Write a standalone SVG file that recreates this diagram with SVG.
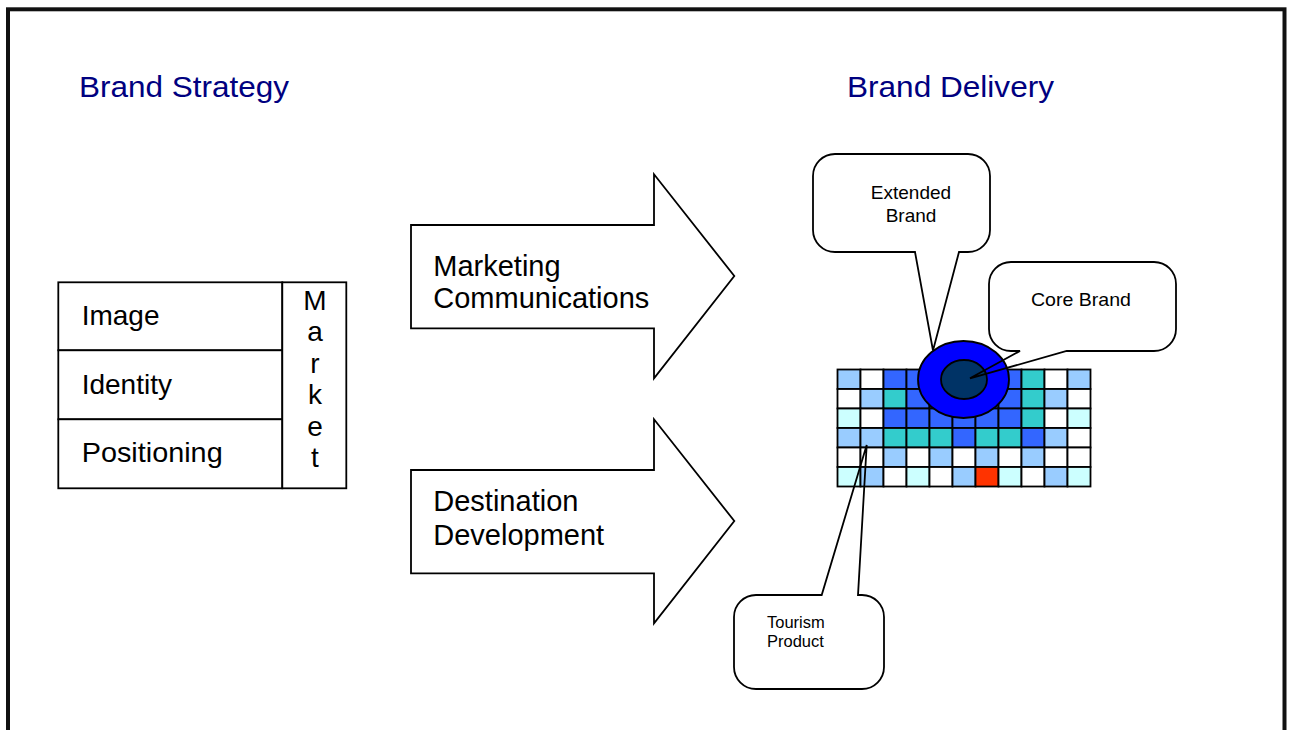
<svg xmlns="http://www.w3.org/2000/svg" width="1294" height="730" viewBox="0 0 1294 730">
<style>
text{font-family:"Liberation Sans",Arial,sans-serif;fill:#000}
.title{font-size:30px;fill:#000080}
.big{font-size:28px}
.arr{font-size:29px}
.co{font-size:19px}
.sm{font-size:16.5px}
.box{fill:#fff;stroke:#000;stroke-width:1.8}
.shape{fill:#fff;stroke:#000;stroke-width:1.8;stroke-linejoin:miter}
.callout{fill:none;stroke:#000;stroke-width:1.8;stroke-linejoin:miter}
.cell{stroke:#000;stroke-width:1.8}
.lb{fill:#99CCFF}.w{fill:#FFFFFF}.b{fill:#3366FF}.t{fill:#33CCCC}.lc{fill:#CCFFFF}.r{fill:#FF3300}
</style>
<rect x="0" y="0" width="1294" height="730" fill="#fff"/>
<rect id="frame" x="8" y="9.3" width="1276.5" height="800" fill="none" stroke="#111" stroke-width="4"/>

<g id="titles">
<text class="title" x="79" y="97" textLength="210" lengthAdjust="spacingAndGlyphs">Brand Strategy</text>
<text class="title" x="847" y="97" textLength="207" lengthAdjust="spacingAndGlyphs">Brand Delivery</text>
</g>

<g id="strategy">
<g id="image"><rect class="box" x="58.3" y="282.3" width="224" height="68"/><text class="big" x="81.7" y="325">Image</text></g>
<g id="identity"><rect class="box" x="58.3" y="350.3" width="224" height="69"/><text class="big" x="81.7" y="393.5">Identity</text></g>
<g id="positioning"><rect class="box" x="58.3" y="419.3" width="224" height="69"/><text class="big" x="81.7" y="461.7" textLength="141" lengthAdjust="spacingAndGlyphs">Positioning</text></g>
<g id="market"><rect class="box" x="282.3" y="282.3" width="64" height="206"/>
<text class="big" text-anchor="middle"><tspan x="315" y="310">M</tspan><tspan x="315" y="341.4">a</tspan><tspan x="315" y="372.8">r</tspan><tspan x="315" y="404.2">k</tspan><tspan x="315" y="435.6">e</tspan><tspan x="315" y="467">t</tspan></text></g>
</g>

<g id="connectors">
<g id="marketing-communications">
<path class="shape" d="M411,225 H654 V174.3 L734.3,276 L654,378.3 V328.3 H411 Z"/>
<text class="arr" x="433.3" y="276">Marketing</text>
<text class="arr" x="433.3" y="308.3">Communications</text>
</g>
<g id="destination-development">
<path class="shape" d="M411,470 H654 V419.3 L734.3,521 L654,623.3 V573.3 H411 Z"/>
<text class="arr" x="433.3" y="511">Destination</text>
<text class="arr" x="433.3" y="545">Development</text>
</g>
</g>

<g id="grid">
<rect class="cell lb" x="837.5" y="369.5" width="23" height="19.5"/>
<rect class="cell w" x="860.5" y="369.5" width="23" height="19.5"/>
<rect class="cell b" x="883.5" y="369.5" width="23" height="19.5"/>
<rect class="cell b" x="906.5" y="369.5" width="23" height="19.5"/>
<rect class="cell b" x="929.5" y="369.5" width="23" height="19.5"/>
<rect class="cell b" x="952.5" y="369.5" width="23" height="19.5"/>
<rect class="cell b" x="975.5" y="369.5" width="23" height="19.5"/>
<rect class="cell b" x="998.5" y="369.5" width="23" height="19.5"/>
<rect class="cell t" x="1021.5" y="369.5" width="23" height="19.5"/>
<rect class="cell w" x="1044.5" y="369.5" width="23" height="19.5"/>
<rect class="cell lb" x="1067.5" y="369.5" width="23" height="19.5"/>

<rect class="cell w" x="837.5" y="389" width="23" height="19.5"/>
<rect class="cell lb" x="860.5" y="389" width="23" height="19.5"/>
<rect class="cell t" x="883.5" y="389" width="23" height="19.5"/>
<rect class="cell b" x="906.5" y="389" width="23" height="19.5"/>
<rect class="cell b" x="929.5" y="389" width="23" height="19.5"/>
<rect class="cell b" x="952.5" y="389" width="23" height="19.5"/>
<rect class="cell b" x="975.5" y="389" width="23" height="19.5"/>
<rect class="cell b" x="998.5" y="389" width="23" height="19.5"/>
<rect class="cell t" x="1021.5" y="389" width="23" height="19.5"/>
<rect class="cell lb" x="1044.5" y="389" width="23" height="19.5"/>
<rect class="cell w" x="1067.5" y="389" width="23" height="19.5"/>

<rect class="cell lc" x="837.5" y="408.5" width="23" height="19.5"/>
<rect class="cell w" x="860.5" y="408.5" width="23" height="19.5"/>
<rect class="cell b" x="883.5" y="408.5" width="23" height="19.5"/>
<rect class="cell b" x="906.5" y="408.5" width="23" height="19.5"/>
<rect class="cell b" x="929.5" y="408.5" width="23" height="19.5"/>
<rect class="cell b" x="952.5" y="408.5" width="23" height="19.5"/>
<rect class="cell b" x="975.5" y="408.5" width="23" height="19.5"/>
<rect class="cell b" x="998.5" y="408.5" width="23" height="19.5"/>
<rect class="cell t" x="1021.5" y="408.5" width="23" height="19.5"/>
<rect class="cell w" x="1044.5" y="408.5" width="23" height="19.5"/>
<rect class="cell lc" x="1067.5" y="408.5" width="23" height="19.5"/>

<rect class="cell lb" x="837.5" y="428" width="23" height="19.5"/>
<rect class="cell lb" x="860.5" y="428" width="23" height="19.5"/>
<rect class="cell t" x="883.5" y="428" width="23" height="19.5"/>
<rect class="cell t" x="906.5" y="428" width="23" height="19.5"/>
<rect class="cell t" x="929.5" y="428" width="23" height="19.5"/>
<rect class="cell b" x="952.5" y="428" width="23" height="19.5"/>
<rect class="cell t" x="975.5" y="428" width="23" height="19.5"/>
<rect class="cell t" x="998.5" y="428" width="23" height="19.5"/>
<rect class="cell b" x="1021.5" y="428" width="23" height="19.5"/>
<rect class="cell lb" x="1044.5" y="428" width="23" height="19.5"/>
<rect class="cell w" x="1067.5" y="428" width="23" height="19.5"/>

<rect class="cell w" x="837.5" y="447.5" width="23" height="19.5"/>
<rect class="cell w" x="860.5" y="447.5" width="23" height="19.5"/>
<rect class="cell lb" x="883.5" y="447.5" width="23" height="19.5"/>
<rect class="cell w" x="906.5" y="447.5" width="23" height="19.5"/>
<rect class="cell lb" x="929.5" y="447.5" width="23" height="19.5"/>
<rect class="cell w" x="952.5" y="447.5" width="23" height="19.5"/>
<rect class="cell lb" x="975.5" y="447.5" width="23" height="19.5"/>
<rect class="cell w" x="998.5" y="447.5" width="23" height="19.5"/>
<rect class="cell lb" x="1021.5" y="447.5" width="23" height="19.5"/>
<rect class="cell w" x="1044.5" y="447.5" width="23" height="19.5"/>
<rect class="cell w" x="1067.5" y="447.5" width="23" height="19.5"/>

<rect class="cell lc" x="837.5" y="467" width="23" height="19.5"/>
<rect class="cell lb" x="860.5" y="467" width="23" height="19.5"/>
<rect class="cell w" x="883.5" y="467" width="23" height="19.5"/>
<rect class="cell lc" x="906.5" y="467" width="23" height="19.5"/>
<rect class="cell w" x="929.5" y="467" width="23" height="19.5"/>
<rect class="cell lb" x="952.5" y="467" width="23" height="19.5"/>
<rect class="cell r" x="975.5" y="467" width="23" height="19.5"/>
<rect class="cell lc" x="998.5" y="467" width="23" height="19.5"/>
<rect class="cell w" x="1021.5" y="467" width="23" height="19.5"/>
<rect class="cell lb" x="1044.5" y="467" width="23" height="19.5"/>
<rect class="cell lc" x="1067.5" y="467" width="23" height="19.5"/>
</g>

<g id="brand-rings">
<ellipse cx="963.5" cy="379.5" rx="45.5" ry="38.5" fill="#0000FF" stroke="#000" stroke-width="1.8"/>
<ellipse cx="964" cy="379.5" rx="23" ry="19.5" fill="#003366" stroke="#000" stroke-width="1.8"/>
</g>

<g id="extended-brand">
<path class="callout" d="M835,154 H968 A22,22 0 0 1 990,176 V230 A22,22 0 0 1 968,252 H959 L933,350.5 L915,252 H835 A22,22 0 0 1 813,230 V176 A22,22 0 0 1 835,154 Z"/>
<text class="co" x="911" y="199" text-anchor="middle">Extended</text>
<text class="co" x="911" y="221.7" text-anchor="middle">Brand</text>
</g>

<g id="core-brand">
<path class="callout" d="M1011,262 H1154 A22,22 0 0 1 1176,284 V329 A22,22 0 0 1 1154,351 H1066.7 L970,378.3 L1020,351 H1011 A22,22 0 0 1 989,329 V284 A22,22 0 0 1 1011,262 Z"/>
<text class="co" x="1031" y="305.7" textLength="100" lengthAdjust="spacingAndGlyphs">Core Brand</text>
</g>

<g id="tourism-product">
<path class="callout" d="M756,595 H821.7 L866.7,445 L858,595 H862 A22,22 0 0 1 884,617 V667 A22,22 0 0 1 862,689 H756 A22,22 0 0 1 734,667 V617 A22,22 0 0 1 756,595 Z"/>
<text class="sm" x="767" y="628.3">Tourism</text>
<text class="sm" x="767" y="646.7">Product</text>
</g>
</svg>
